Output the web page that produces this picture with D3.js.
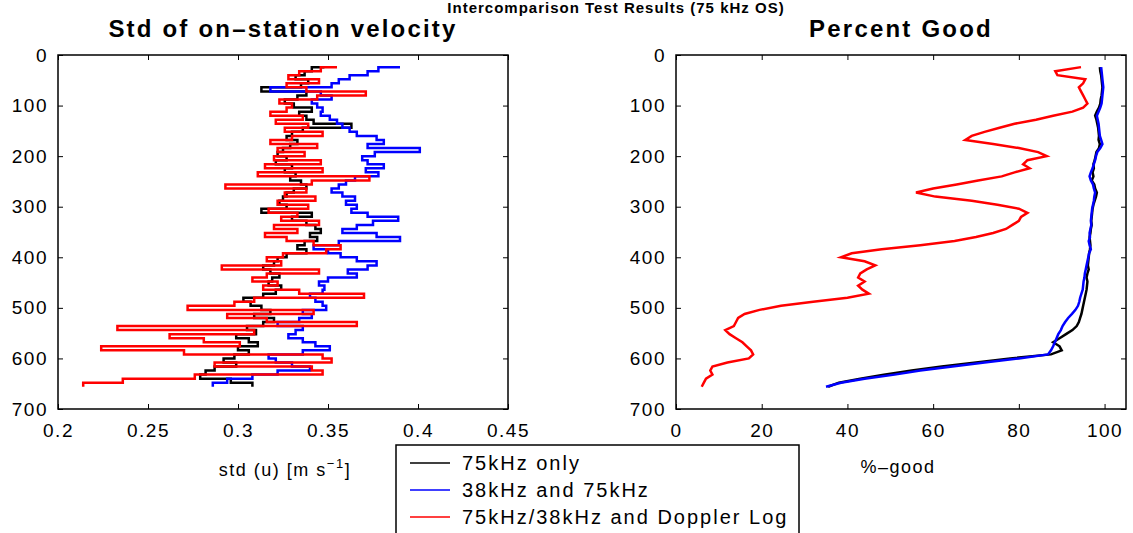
<!DOCTYPE html>
<html>
<head>
<meta charset="utf-8">
<script src="https://cdn.jsdelivr.net/npm/d3@7"></script>
<style>
  body { margin: 0; background: #fff; }
  svg { display: block; font-family: "Liberation Sans", Arial, sans-serif; }
  .tick text { font-size: 19px; letter-spacing: 1.5px; fill: #000; }
  .tick line { stroke: #000; }
  .domain { stroke: none; }
</style>
</head>
<body>
<svg width="1133" height="533"></svg>
<script>
// depth bins (m), shared by every profile
const depths = [
  24, 32, 40, 48, 56, 64, 72, 80, 88, 96,
  104, 112, 120, 128, 136, 144, 152, 160, 168, 176,
  184, 192, 200, 208, 216, 224, 232, 240, 248, 256,
  264, 272, 280, 288, 296, 304, 312, 320, 328, 336,
  344, 352, 360, 368, 376, 384, 392, 400, 408, 416,
  424, 432, 440, 448, 456, 464, 472, 480, 488, 496,
  504, 512, 520, 528, 536, 544, 552, 560, 568, 576,
  584, 592, 600, 608, 616, 624, 632, 640, 648, 656
];

// std of on-station velocity (m/s)
const stdOnly75 = [
  0.348, 0.341, 0.337, 0.332, 0.339, 0.335, 0.313, 0.338, 0.333, 0.326,
  0.331, 0.341, 0.334, 0.338, 0.342, 0.363, 0.336, 0.330, 0.327, 0.333,
  0.329, 0.325, 0.322, 0.327, 0.321, 0.330, 0.326, 0.332, 0.329, 0.335,
  0.338, 0.331, 0.327, 0.325, 0.323, 0.327, 0.313, 0.341, 0.330, 0.338,
  0.343, 0.346, 0.340, 0.344, 0.337, 0.333, 0.338, 0.327, 0.322, 0.320,
  0.314, 0.318, 0.323, 0.319, 0.317, 0.324, 0.321, 0.314, 0.303, 0.307,
  0.313, 0.318, 0.309, 0.320, 0.314, 0.305, 0.310, 0.299, 0.306, 0.311,
  0.300, 0.306, 0.298, 0.292, 0.299, 0.287, 0.282, 0.279, 0.296, 0.308
];
const std38and75 = [
  0.390, 0.378, 0.372, 0.362, 0.356, 0.352, 0.318, 0.346, 0.352, 0.341,
  0.344, 0.347, 0.346, 0.351, 0.355, 0.358, 0.362, 0.366, 0.377, 0.381,
  0.372, 0.401, 0.376, 0.369, 0.372, 0.381, 0.371, 0.378, 0.365, 0.360,
  0.356, 0.352, 0.358, 0.365, 0.360, 0.366, 0.363, 0.372, 0.389, 0.375,
  0.366, 0.358, 0.377, 0.390, 0.356, 0.342, 0.350, 0.357, 0.366, 0.377,
  0.372, 0.361, 0.366, 0.350, 0.345, 0.348, 0.347, 0.340, 0.343, 0.347,
  0.349, 0.336, 0.341, 0.334, 0.322, 0.336, 0.332, 0.328, 0.336, 0.343,
  0.351, 0.336, 0.317, 0.321, 0.330, 0.340, 0.322, 0.308, 0.294, 0.286
];
const stdWithLog = [
  0.355, 0.346, 0.334, 0.328, 0.345, 0.327, 0.338, 0.371, 0.344, 0.323,
  0.330, 0.327, 0.318, 0.336, 0.321, 0.339, 0.326, 0.347, 0.330, 0.318,
  0.344, 0.322, 0.337, 0.320, 0.346, 0.315, 0.347, 0.311, 0.373, 0.341,
  0.293, 0.338, 0.326, 0.343, 0.322, 0.339, 0.317, 0.333, 0.324, 0.345,
  0.320, 0.333, 0.315, 0.327, 0.342, 0.357, 0.349, 0.325, 0.316, 0.324,
  0.291, 0.345, 0.316, 0.308, 0.322, 0.314, 0.334, 0.370, 0.309, 0.298,
  0.272, 0.342, 0.294, 0.316, 0.366, 0.233, 0.309, 0.262, 0.281, 0.301,
  0.224, 0.270, 0.347, 0.352, 0.287, 0.341, 0.347, 0.276, 0.236, 0.214
];

// percent good
const pgOnly75 = [
  98.9, 99.0, 99.2, 99.3, 99.4, 99.5, 99.4, 99.3, 99.1, 99.0,
  98.7, 98.2, 97.8, 98.1, 98.3, 98.5, 98.6, 98.7, 98.6, 98.9,
  98.7, 98.1, 97.9, 97.7, 97.4, 97.5, 97.2, 97.4, 97.0, 97.6,
  97.8, 98.2, 98.0, 97.7, 97.4, 97.2, 97.1, 97.0, 96.9, 97.0,
  96.8, 96.7, 96.5, 96.6, 96.7, 96.6, 96.4, 96.3, 96.2, 96.1,
  96.3, 96.0, 95.8, 96.0, 95.9, 95.8, 95.6, 95.4, 95.2, 95.0,
  94.8, 94.6, 94.3, 94.0, 93.5, 92.5, 91.0, 89.5, 88.0, 89.5,
  90.0, 87.5, 78.0, 70.0, 62.0, 55.0, 48.5, 43.0, 38.0, 35.5
];
const pg38and75 = [
  99.2, 99.3, 99.4, 99.5, 99.6, 99.7, 99.6, 99.5, 99.4, 99.3,
  99.0, 98.6, 98.2, 98.4, 98.6, 98.7, 98.8, 98.9, 99.2, 99.5,
  99.0, 98.3, 98.0, 97.8, 97.5, 97.2, 96.8, 96.5, 96.8, 97.3,
  97.5, 97.8, 97.6, 97.5, 97.3, 97.1, 97.0, 96.9, 96.8, 96.9,
  96.7, 96.5, 96.6, 96.3, 96.5, 96.8, 96.4, 96.2, 96.0, 95.8,
  95.6, 95.4, 95.3, 95.1, 95.0, 94.9, 94.6, 94.3, 94.1, 93.8,
  93.2, 92.4, 91.5, 90.8, 90.2, 89.8, 89.2, 88.8, 88.4, 88.0,
  87.5, 86.8, 80.0, 72.0, 64.5, 57.0, 51.0, 44.0, 38.5, 35.0
];
const pgWithLog = [
  94.5, 88.5, 89.0, 95.5, 95.0, 94.0, 94.5, 95.0, 95.5, 96.0,
  95.0, 92.5, 88.0, 84.0, 79.0, 75.5, 72.0, 69.0, 67.5, 74.0,
  80.0, 84.5, 86.5, 82.0, 81.0, 82.5, 79.0, 76.0, 70.5, 65.5,
  60.0, 56.0, 60.5, 69.0, 75.0, 80.0, 82.0, 80.5, 80.0, 78.5,
  77.0, 74.0, 70.0, 65.0, 57.0, 48.0, 41.0, 38.5, 44.0, 46.5,
  44.5, 43.0, 42.5, 44.0, 42.5, 43.5, 45.0, 40.0, 32.0, 24.5,
  19.5, 16.0, 14.5, 14.0, 13.5, 11.5, 12.5, 14.0, 15.5, 16.5,
  17.5, 18.0, 17.0, 12.0, 8.5, 8.0, 8.5, 7.0, 6.5, 6.0
];

const depthTicks = [0, 100, 200, 300, 400, 500, 600, 700];
const stdTicks = [0.2, 0.25, 0.3, 0.35, 0.4, 0.45];
const stdTickLabels = ["0.2", "0.25", "0.3", "0.35", "0.4", "0.45"];
const pgTicks = [0, 20, 40, 60, 80, 100];
const seriesNames = ["75kHz only", "38kHz and 75kHz", "75kHz/38kHz and Doppler Log"];
const seriesColors = ["#000000", "#0000ff", "#ff0000"];

const svg = d3.select("svg");

// both panels share the same depth scale
const y = d3.scaleLinear().domain([0, 700]).range([55, 409]);

function drawPanel(p) {
  const x = d3.scaleLinear().domain(p.xDomain).range(p.xRange);
  const g = svg.append("g");

  const line = d3.line()
    .x(d => x(d[1]))
    .y(d => y(d[0]))
    .curve(p.curve);

  // black first, red ends up on top (same as the original plot order)
  p.series.forEach((vals, i) => {
    g.append("path")
      .datum(depths.map((d, j) => [d, vals[j]]))
      .attr("d", line)
      .attr("fill", "none")
      .attr("stroke", seriesColors[i])
      .attr("stroke-width", 2.5);
  });

  // inward ticks on all four sides, labels only bottom / left
  g.append("g")
    .attr("transform", "translate(0," + y(700) + ")")
    .call(d3.axisBottom(x).tickValues(p.xTicks).tickFormat((d, i) => p.xLabels[i])
      .tickSize(-5).tickPadding(15));
  g.append("g")
    .attr("transform", "translate(0," + y(0) + ")")
    .call(d3.axisTop(x).tickValues(p.xTicks).tickFormat("").tickSize(-5));
  g.append("g")
    .attr("transform", "translate(" + p.xRange[0] + ",0)")
    .call(d3.axisLeft(y).tickValues(depthTicks).tickSize(-5).tickPadding(10));
  g.append("g")
    .attr("transform", "translate(" + p.xRange[1] + ",0)")
    .call(d3.axisRight(y).tickValues(depthTicks).tickFormat("").tickSize(-5));
  g.selectAll(".tick text").attr("font-size", null).attr("font-family", null);

  g.append("rect")
    .attr("x", p.xRange[0])
    .attr("y", y(0))
    .attr("width", p.xRange[1] - p.xRange[0])
    .attr("height", y(700) - y(0))
    .attr("fill", "none")
    .attr("stroke", "#000")
    .attr("stroke-width", 1.5);

  // panel title
  g.append("text")
    .attr("x", (p.xRange[0] + p.xRange[1]) / 2)
    .attr("y", 37)
    .attr("text-anchor", "middle")
    .attr("font-size", 24)
    .attr("font-weight", "bold")
    .attr("letter-spacing", 2.2)
    .text(p.title);

  return g;
}

drawPanel({
  xDomain: [0.2, 0.45],
  xRange: [58, 508],
  xTicks: stdTicks,
  xLabels: stdTickLabels,
  series: [stdOnly75, std38and75, stdWithLog],
  curve: d3.curveStepAfter,
  title: "Std of on\u2013station velocity"
});

drawPanel({
  xDomain: [0, 105],
  xRange: [676, 1126],
  xTicks: pgTicks,
  xLabels: pgTicks.map(String),
  series: [pgOnly75, pg38and75, pgWithLog],
  curve: d3.curveLinear,
  title: "Percent Good"
});

// figure title sits in the thin strip above the panel titles
svg.append("text")
  .attr("x", 616)
  .attr("y", 13)
  .attr("text-anchor", "middle")
  .attr("font-size", 15)
  .attr("font-weight", "bold")
  .attr("letter-spacing", 1)
  .text("Intercomparison Test Results (75 kHz OS)");

// x axis labels
const xl = svg.append("text")
  .attr("x", 285)
  .attr("y", 476)
  .attr("text-anchor", "middle")
  .attr("font-size", 18)
  .attr("letter-spacing", 1.5);
xl.append("tspan").text("std (u) [m s");
xl.append("tspan").attr("dy", -8).attr("font-size", 13).text("\u22121");
xl.append("tspan").attr("dy", 8).text("]");

svg.append("text")
  .attr("x", 898)
  .attr("y", 473)
  .attr("text-anchor", "middle")
  .attr("font-size", 18)
  .attr("letter-spacing", 1.5)
  .text("%\u2013good");

// legend
const legend = svg.append("g");
legend.append("rect")
  .attr("x", 396)
  .attr("y", 445)
  .attr("width", 403)
  .attr("height", 110)
  .attr("fill", "#fff")
  .attr("stroke", "#000")
  .attr("stroke-width", 1.5);
const rowY = [463, 490, 517];
seriesNames.forEach((name, i) => {
  legend.append("line")
    .attr("x1", 410).attr("x2", 450)
    .attr("y1", rowY[i]).attr("y2", rowY[i])
    .attr("stroke", seriesColors[i])
    .attr("stroke-width", 1.5);
  legend.append("text")
    .attr("x", 462)
    .attr("y", rowY[i])
    .attr("dy", "0.36em")
    .attr("font-size", 20)
    .attr("letter-spacing", 2)
    .text(name);
});
</script>
</body>
</html>
